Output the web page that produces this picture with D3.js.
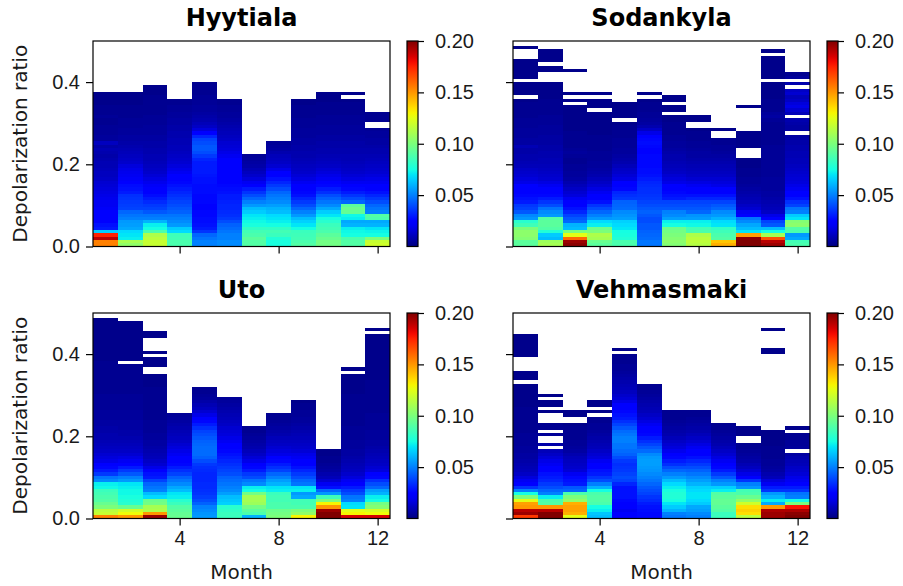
<!DOCTYPE html>
<html lang="en">
<head>
<meta charset="UTF-8">
<title>Depolarization ratio by month</title>
<style>
  body { margin: 0; background: #fff; }
  svg { font-family: "DejaVu Sans", sans-serif; }
  .axis text { font-size: 20px; fill: #1a1a1a; }
  .axis line { stroke: #000; stroke-width: 1.2; }
  .axis path { display: none; }
  .title { font-size: 24px; font-weight: bold; fill: #000; }
  .label { font-size: 20px; fill: #1a1a1a; }
  .cell { shape-rendering: crispEdges; }
</style>
</head>
<body>
<svg width="903" height="586"></svg>
<script src="https://cdn.jsdelivr.net/npm/d3@7"></script>
<script>
const months = [1, 2, 3, 4, 5, 6, 7, 8, 9, 10, 11, 12];
const binWidth = 0.008;
const xTicks = [4, 8, 12];
const yTicks = [0, 0.2, 0.4];
const cbarTicks = [0.05, 0.10, 0.15, 0.20];
const cbarRange = [0, 0.2];

// per month, per depolarization bin (bottom bin first); values in units of 0.001, null = no data
const hyytiala = [
  [155,155,190,175,65, 30,28,25,24,22, 22,21,20,20,19, 18,17,16,15,14, 12,11,11,10,9, 9,8,7,8,9, 7,11,5,5,4, 4,4,3,3,4, 3,3,3,2,2, 2,2],
  [105,110,72,70,68, 58,56,55,50,48, 45,38,37,36,35, 34,30,28,27,22, 21,20,19,18,16, 13,12,11,10,9, 8,7,6,6,5, 5,4,4,4,3, 3,3,3,2,2, 2,2],
  [118,118,115,112,88, 75,72,60,50,48, 42,38,36,33,30, 27,25,23,21,19, 17,15,13,12,11, 10,9,9,8,8, 7,7,6,6,5, 5,5,4,4,4, 3,3,3,3,3, 3,2,2,2],
  [88,88,86,85,68, 65,55,52,50,48, 44,42,40,38,36, 34,32,30,28,26, 24,22,20,18,16, 14,13,12,11,10, 10,9,9,8,8, 7,7,6,6,5, 5,4,4,3,3],
  [50,50,48,45,35, 30,28,27,27,26, 26,25,25,26,26, 26,27,27,27,28, 28,29,30,30,30, 30,32,36,40,42, 42,40,38,32,24, 16,12,10,8,7, 6,5,5,4,4, 4,3,3,3,3],
  [52,52,50,50,48, 46,44,40,36,34, 33,32,32,31,30, 30,28,27,26,25, 25,24,24,23,22, 22,22,20,18,16, 15,14,12,11,10, 9,8,7,6,5, 5,4,4,3,3],
  [90,90,92,88,86, 82,76,74,72,70, 65,62,55,50,45, 40,35,30,24,20, 16,13,11,9,7, 6,5,4],
  [76,76,78,84,86, 82,75,72,70,68, 62,60,56,52,50, 48,45,40,36,32, 28,25,22,18,14, 12,11,10,8,6, 5,4],
  [90,88,86,85,84, 75,70,66,62,55, 50,45,40,36,32, 28,26,24,22,20, 17,15,13,12,11, 10,9,8,8,7, 7,6,6,5,5, 5,4,4,4,3, 3,3,3,2,2],
  [98,98,95,92,88, 86,84,80,76,70, 65,58,52,48,44, 40,34,30,26,22, 20,18,16,14,12, 11,10,9,8,8, 7,7,6,6,5, 5,5,4,4,4, 3,3,3,3,2, 2,2],
  [90,90,88,75,74, 72,60,58,72,74, 94,96,92,45,40, 35,30,26,22,20, 17,15,13,12,11, 10,9,9,8,8, 7,7,6,6,5, 5,5,4,4,4, 3,3,3,3,2, null,2],
  [120,118,100,75,73, 70,60,58,88,90, 50,48,45,40,36, 32,28,25,22,20, 18,16,14,13,12, 11,10,9,8,8, 7,6,6,5,5, 4,null,null,3,3, 3]
];

const sodankyla = [
  [92,92,102,104,104, 100,85,80,55,52, 42,38,36,30,28, 26,25,24,22,18, 16,14,13,12,10, 9,8,8,7,7, 9,6,6,5,5, 5,4,4,4,3, 3,3,3,3,2, null,2,2,2,2, null,2,2,2,2, 2,2,null,null,null, 2],
  [110,108,62,65,78, 90,92,92,90,55, 52,48,40,35,30, 26,24,22,20,17, 14,13,12,11,10, 9,9,8,8,7, 7,6,6,6,5, 5,5,4,4,4, 3,3,3,3,3, 2,2,2,2,2, null,null,null,2,2, null,2,2,2,2],
  [198,195,160,125,100, 62,60,45,42,38, 32,28,25,22,20, 16,14,12,10,8, 6,5,5,4,4, 3,3,4,5,4, 3,3,3,3,3, 2,2,2,2,2, 2,2,2,null,2, null,2,null,null,null, null,null,null,2],
  [92,95,110,112,100, 96,72,68,55,50, 45,40,35,28,25, 22,20,17,14,12, 10,8,7,6,5, 5,4,4,4,3, 3,3,3,3,2, 2,2,2,2,2, 2,null,2,2,2, null,2],
  [88,88,78,76,75, 70,68,66,56,54, 52,46,45,44,36, 34,32,26,24,22, 17,15,13,12,10, 8,7,6,5,5, 4,4,4,3,3, 3,3,2,null,2, 2,2,2,2],
  [48,48,46,45,44, 42,42,40,40,42, 44,42,40,38,36, 35,34,34,33,32, 30,28,27,27,26, 26,26,26,25,25, 26,27,26,24,18, 12,8,6,5,4, 4,3,3,3,2, null,2],
  [102,104,102,100,98, 96,75,72,56,52, 50,42,40,38,30, 28,26,24,22,18, 16,14,12,11,10, 9,8,8,7,6, 5,5,4,4,3, 3,3,3,2,2, null,2,2,null,2, 2],
  [114,116,115,112,88, 86,74,72,56,54, 45,42,40,38,32, 28,25,22,20,17, 14,12,11,10,9, 8,7,6,6,5, 4,4,3,3,3, 2,null,null,2,2],
  [145,140,90,88,85, 82,70,68,60,55, 52,45,42,38,32, 28,25,22,18,16, 14,12,11,10,9, 8,7,6,5,4, 4,3,3,null,null, 2],
  [200,200,198,148,70, 62,58,52,48,25, 20,14,12,10,9, 8,7,6,5,4, 4,3,3,3,2, 2,2,null,null,null, 2,2,2,2,2, null,null,null,null,null, null,null,2],
  [195,190,165,110,75, 62,42,38,22,18, 12,10,9,8,7, 6,6,5,5,5, 5,4,4,4,4, 4,4,4,4,4, 4,3,3,3,3, 3,3,3,4,6, 5,3,3,3,3, 2,2,2,2,2, null,2,2,2,2, 2,2,2,null,2],
  [88,86,58,55,88, 90,104,102,70,65, 50,48,38,34,28, 25,22,20,18,16, 15,14,13,12,11, 10,10,9,9,8, 8,7,7,6,null, 6,6,7,8,null, 10,14,18,16,12, 10,14,12,null,8, null,5,3]
];

const uto = [
  [155,118,115,100,95, 90,88,86,84,74, 72,52,48,36,30, 26,22,18,16,14, 12,11,10,9,8, 8,7,7,6,6, 5,5,5,4,4, 4,4,4,3,3, 3,3,3,3,3, 3,3,3,2,2, 2,2,2,2,2, 2,2,2,2,2, 2],
  [150,128,120,95,80, 78,76,74,74,72, 70,55,50,42,36, 30,24,20,17,14, 12,11,10,9,8, 7,7,6,6,6, 5,5,5,4,4, 4,4,4,3,3, 3,3,3,3,3, 3,3,null,2,2, 2,2,2,2,2, 2,2,2,2,2],
  [195,150,112,110,98, 96,68,62,50,48, 45,38,30,28,22, 18,14,12,10,9, 8,7,6,6,5, 5,4,4,4,4, 3,3,3,3,3, 3,3,3,3,3, 2,2,2,2,null, null,2,2,2,null, 2,null,null,null,null, 2,2],
  [95,94,92,90,84, 80,72,70,62,58, 52,48,44,38,34, 30,26,24,22,20, 18,16,14,12,11, 10,9,8,7,6, 5,4],
  [55,54,52,50,44, 40,37,35,34,33, 33,32,32,32,33, 34,36,40,44,46, 46,46,45,44,42, 40,38,34,30,26, 22,18,14,11,9, 7,5,4,3,3],
  [84,84,82,80,66, 64,62,56,52,50, 48,46,44,40,38, 36,34,32,30,28, 26,24,22,20,18, 16,15,14,12,11, 10,9,8,7,6, 5,4],
  [60,88,92,98,108, 110,110,98,75,72, 52,48,40,36,30, 26,22,18,15,12, 10,8,7,6,5, 4,3,3],
  [100,98,96,88,88, 86,86,84,72,70, 60,56,50,45,38, 34,30,26,22,18, 16,14,12,11,10, 8,7,6,5,4, 3,3],
  [130,105,100,88,86, 86,58,55,72,70, 48,45,40,36,32, 28,24,22,20,18, 15,13,12,11,10, 9,8,7,6,5, 5,4,4,3,3, 2],
  [200,200,195,150,130, 100,85,55,45,28, 20,14,10,8,6, 5,4,3,3,2, 2],
  [185,130,125,70,68, 50,48,40,36,30, 25,20,16,13,11, 10,9,8,7,6, 6,5,5,5,4, 4,4,4,3,3, 3,3,3,3,3, 3,3,3,2,2, 2,2,2,2,null, 2],
  [185,128,122,102,98, 75,72,60,56,45, 40,34,26,22,16, 14,12,11,10,9, 8,7,6,6,5, 5,5,4,4,4, 4,4,3,3,3, 3,3,3,3,3, 3,3,2,2,2, 2,2,2,2,2, 2,2,2,2,2, 2,null,2]
];

const vehmasmaki = [
  [170,195,190,150,148, 125,100,75,50,35, 25,20,16,12,10, 9,8,7,6,6, 5,5,4,4,4, 4,3,3,3,3, 3,3,3,3,2, 2,2,2,2,2, 2,null,2,2,2, null,null,null,null,2, 2,2,2,2,2, 2],
  [200,200,190,150,90, 88,72,50,45,40, 36,32,30,28,25, 22,20,18,15,12, 10,null,7,null,null, 4,null,3,3,null, null,null,2,null,2, 2,null,2],
  [125,145,148,148,145, 105,100,88,45,42, 30,28,26,20,15, 13,12,11,10,8, 6,5,4,4,3, 3,3,3,2,null, null,2,2],
  [62,64,72,75,88, 90,90,88,75,60, 50,40,35,30,28, 25,22,20,16,14, 12,10,9,8,7, 6,5,4,4,3, 3,null,2,null,2, 2],
  [22,22,20,22,25, 26,28,28,28,28, 32,38,40,38,36, 35,34,36,40,44, 46,48,48,50,50, 48,46,42,38,34, 30,28,26,24,22, 18,15,13,11,10, 9,8,7,6,5, 4,4,3,3,3, null,2],
  [26,26,27,28,30, 33,35,38,40,42, 45,48,50,52,54, 55,56,56,55,52, 46,42,38,34,30, 26,24,22,20,17, 14,12,10,9,8, 7,6,5,4,3, 3],
  [48,50,60,65,70, 76,78,78,76,72, 68,62,55,50,45, 40,34,30,26,22, 19,16,14,12,10, 8,7,6,5,4, 3,3,3],
  [50,52,56,58,65, 68,70,70,68,66, 60,56,52,48,44, 40,36,32,28,25, 22,20,17,14,12, 10,8,7,6,5, 4,3,3],
  [84,84,90,92,94, 94,92,90,72,66, 55,50,42,36,30, 26,22,20,17,14, 12,10,8,7,6, 5,4,3,3],
  [115,135,138,135,120, 105,95,88,86,55, 50,35,25,18,14, 11,9,7,6,5, 4,3,3,null,null, 2,2,2],
  [195,195,192,150,58, 72,60,55,35,30, 20,16,10,8,6, 5,4,4,3,3, 3,3,2,2,2, 2,2,null,null,null, null,null,null,null,null, null,null,null,null,null, null,null,null,null,null, null,null,null,null,null, 2,2,null,null,null, null,null,2],
  [200,198,192,178,100, 75,50,48,35,30, 25,20,18,15,13, 12,10,9,8,6, null,5,4,4,3, 3,null,2]
];

const svg = d3.select("svg");
const w = 297, h = 205.5;
const cbarW = 11, cbarGap = 17;

// matplotlib "jet"
const jetR = d3.scaleLinear([0, 0.35, 0.66, 0.89, 1], [0, 0, 1, 1, 0.5]).clamp(true);
const jetG = d3.scaleLinear([0, 0.125, 0.375, 0.64, 0.91, 1], [0, 0, 1, 1, 0, 0]).clamp(true);
const jetB = d3.scaleLinear([0, 0.11, 0.34, 0.65, 1], [0.5, 1, 1, 0, 0]).clamp(true);
const norm = d3.scaleLinear(cbarRange, [0, 1]).clamp(true);
const jet = v => {
  const t = norm(v);
  return d3.rgb(255 * jetR(t), 255 * jetG(t), 255 * jetB(t)).formatHex();
};

const grad = svg.append("defs").append("linearGradient")
  .attr("id", "jetgrad")
  .attr("x1", 0).attr("y1", 1).attr("x2", 0).attr("y2", 0);
d3.range(0, 1.0001, 0.025).forEach(t => {
  grad.append("stop").attr("offset", t).attr("stop-color", jet(norm.invert(t)));
});

const panels = [
  {name: "Hyytiala",   data: hyytiala,   left: 93,  top: 41,  yLabels: true,  xLabels: false},
  {name: "Sodankyla",  data: sodankyla,  left: 513, top: 41,  yLabels: false, xLabels: false},
  {name: "Uto",        data: uto,        left: 93,  top: 313, yLabels: true,  xLabels: true},
  {name: "Vehmasmaki", data: vehmasmaki, left: 513, top: 313, yLabels: false, xLabels: true}
];

panels.forEach(p => {
  const g = svg.append("g").attr("transform", `translate(${p.left},${p.top})`);
  const x = d3.scaleLinear([0.5, 12.5], [0, w]);
  const y = d3.scaleLinear([0, 0.5], [h, 0]);

  const cells = [];
  p.data.forEach((col, i) => {
    col.forEach((v, k) => {
      if (v !== null) cells.push({month: months[i], bin: k, value: v / 1000});
    });
  });

  g.selectAll("rect.cell").data(cells).join("rect")
    .attr("class", "cell")
    .attr("x", d => x(d.month - 0.5))
    .attr("width", d => x(d.month + 0.5) - x(d.month - 0.5))
    .attr("y", d => y((d.bin + 1) * binWidth))
    .attr("height", d => y(d.bin * binWidth) - y((d.bin + 1) * binWidth))
    .attr("fill", d => jet(d.value));

  g.append("rect")
    .attr("width", w).attr("height", h)
    .attr("fill", "none").attr("stroke", "#000").attr("stroke-width", 1.2);

  g.append("g").attr("class", "axis")
    .attr("transform", `translate(0,${h})`)
    .call(d3.axisBottom(x).tickValues(xTicks).tickSize(7).tickPadding(5)
      .tickFormat(p.xLabels ? d3.format("d") : () => ""));

  g.append("g").attr("class", "axis")
    .call(d3.axisLeft(y).tickValues(yTicks).tickSize(7).tickPadding(6)
      .tickFormat(p.yLabels ? d3.format(".1f") : () => ""));

  g.append("text").attr("class", "title")
    .attr("x", w / 2).attr("y", -15)
    .attr("text-anchor", "middle")
    .text(p.name);

  if (p.yLabels) {
    g.append("text").attr("class", "label")
      .attr("transform", `translate(${27 - p.left},${h / 2}) rotate(-90)`)
      .attr("text-anchor", "middle")
      .text("Depolarization ratio");
  }
  if (p.xLabels) {
    g.append("text").attr("class", "label")
      .attr("x", w / 2).attr("y", h + 60)
      .attr("text-anchor", "middle")
      .text("Month");
  }

  // colorbar
  const cb = g.append("g").attr("transform", `translate(${w + cbarGap},0)`);
  const cy = d3.scaleLinear(cbarRange, [h, 0]);
  cb.append("rect")
    .attr("width", cbarW).attr("height", h)
    .attr("fill", "url(#jetgrad)")
    .attr("stroke", "#000").attr("stroke-width", 1.2);
  cb.append("g").attr("class", "axis")
    .attr("transform", `translate(${cbarW},0)`)
    .call(d3.axisRight(cy).tickValues(cbarTicks).tickSize(6).tickPadding(11)
      .tickFormat(d3.format(".2f")));
});
</script>
</body>
</html>
